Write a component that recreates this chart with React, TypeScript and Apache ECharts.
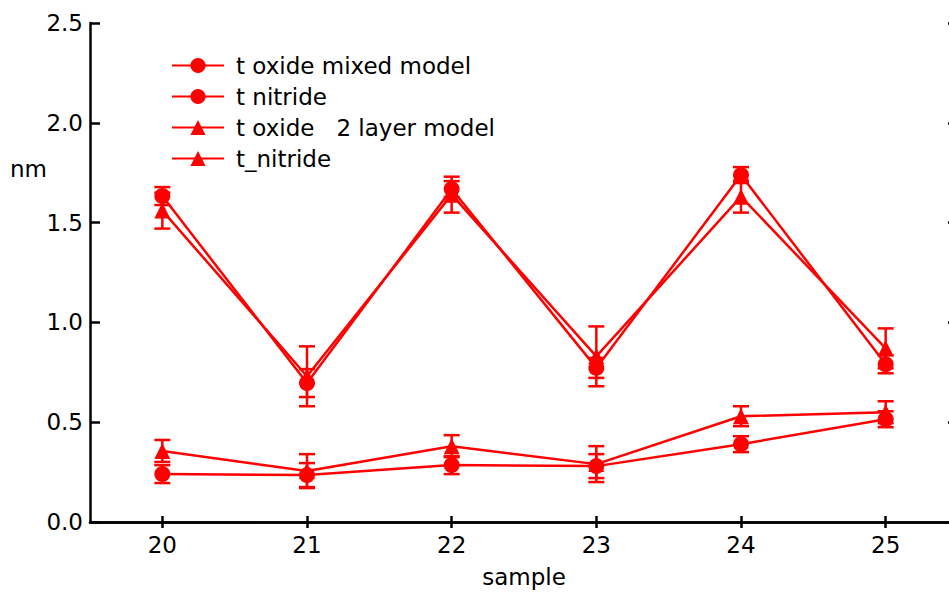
import React, { useEffect, useRef } from "react";
import * as echarts from "echarts";

const samples = ["20", "21", "22", "23", "24", "25"];
const oxideMixed = [1.633, 0.696, 1.668, 0.772, 1.738, 0.79];
const oxideMixedErr = [0.045, 0.07, 0.04, 0.05, 0.04, 0.045];
const nitrideMixed = [0.24, 0.235, 0.285, 0.28, 0.39, 0.515];
const nitrideMixedErr = [0.045, 0.06, 0.045, 0.06, 0.04, 0.04];
const oxide2 = [1.56, 0.73, 1.64, 0.83, 1.63, 0.87];
const oxide2Err = [0.09, 0.15, 0.09, 0.15, 0.08, 0.1];
const nitride2 = [0.356, 0.255, 0.38, 0.29, 0.53, 0.55];
const nitride2Err = [0.055, 0.085, 0.055, 0.09, 0.05, 0.055];
const yTicks = [0, 0.5, 1.0, 1.5, 2.0, 2.5];

const RED = "#ff0000";
const FONT = "'DejaVu Sans', sans-serif";
const FS = 23;
const LW = 2.5;

function errData(vals: number[], errs: number[]) {
  return vals.map((v, i) => [i, v - errs[i], v + errs[i]]);
}

function errSeries(vals: number[], errs: number[]) {
  return {
    type: "custom",
    z: 3,
    data: errData(vals, errs),
    renderItem: (params: any, api: any) => {
      const x = api.value(0);
      const lo = api.coord([x, api.value(1)]);
      const hi = api.coord([x, api.value(2)]);
      const w = 8;
      const style = { stroke: RED, lineWidth: LW };
      return {
        type: "group",
        children: [
          { type: "line", shape: { x1: lo[0], y1: lo[1], x2: hi[0], y2: hi[1] }, style },
          { type: "line", shape: { x1: lo[0] - w, y1: lo[1], x2: lo[0] + w, y2: lo[1] }, style },
          { type: "line", shape: { x1: hi[0] - w, y1: hi[1], x2: hi[0] + w, y2: hi[1] }, style },
        ],
      };
    },
  };
}

function lineSeries(name: string, vals: number[], symbol: string, size: number) {
  return {
    name,
    type: "line",
    data: vals,
    symbol,
    symbolSize: size,
    showAllSymbol: true,
    z: 4,
    lineStyle: { color: RED, width: LW },
    itemStyle: { color: RED },
  };
}

export default function App() {
  const ref = useRef<HTMLDivElement>(null);
  useEffect(() => {
    if (!ref.current) return;
    const chart = echarts.init(ref.current, null, { renderer: "svg" });
    const axisLine = { show: true, lineStyle: { color: "#000", width: 2.5 } };
    const tickStyle = { color: "#000", width: 2.5 };
    chart.setOption({
      animation: false,
      backgroundColor: "#fff",
      textStyle: { fontFamily: FONT },
      grid: { left: 90, top: 23, right: 2, bottom: 71, containLabel: false, outerBoundsMode: "none" },
      legend: {
        data: ["t oxide mixed model", "t nitride", "t oxide   2 layer model", "t_nitride"],
        orient: "vertical",
        left: 171,
        top: 54,
        padding: 0,
        itemWidth: 52,
        itemHeight: 19,
        itemGap: 8,
        textStyle: { fontSize: FS, color: "#000", fontFamily: FONT, lineHeight: 20, padding: [0, 0, 0, 7] },
      },
      xAxis: [
        {
          type: "category",
          data: samples,
          boundaryGap: true,
          name: "sample",
          nameLocation: "middle",
          nameGap: 43,
          nameTextStyle: { fontSize: FS, color: "#000", fontFamily: FONT },
          axisLine,
          axisTick: { show: true, inside: true, alignWithLabel: true, length: 6, lineStyle: tickStyle },
          axisLabel: { fontSize: FS, color: "#000", margin: 11, fontFamily: FONT },
          splitLine: { show: false },
        },
        {
          type: "category",
          data: samples,
          position: "top",
          boundaryGap: true,
          axisLine,
          axisTick: { show: true, inside: true, alignWithLabel: true, length: 6, lineStyle: tickStyle },
          axisLabel: { show: false },
          splitLine: { show: false },
        },
      ],
      yAxis: [
        {
          type: "value",
          min: 0,
          max: 2.5,
          interval: 0.5,
          axisLine,
          axisTick: { show: true, inside: true, length: 10, lineStyle: tickStyle },
          axisLabel: {
            fontSize: FS,
            color: "#000",
            margin: 7,
            fontFamily: FONT,
            formatter: (v: number) => (yTicks.includes(v) ? v.toFixed(1) : ""),
          },
          splitLine: { show: false },
        },
        {
          type: "value",
          min: 0,
          max: 2.5,
          interval: 0.5,
          position: "right",
          axisLine,
          axisTick: { show: true, inside: true, length: 10, lineStyle: tickStyle },
          axisLabel: { show: false },
          splitLine: { show: false },
        },
      ],
      graphic: [
        {
          type: "text",
          left: 10,
          top: 157,
          style: { text: "nm", fontSize: FS, fill: "#000", fontFamily: FONT },
        },
      ],
      series: [
        errSeries(oxideMixed, oxideMixedErr),
        errSeries(nitrideMixed, nitrideMixedErr),
        errSeries(oxide2, oxide2Err),
        errSeries(nitride2, nitride2Err),
        lineSeries("t oxide mixed model", oxideMixed, "circle", 16),
        lineSeries("t nitride", nitrideMixed, "circle", 16),
        lineSeries("t oxide   2 layer model", oxide2, "triangle", 16),
        lineSeries("t_nitride", nitride2, "triangle", 16),
      ],
    });
    return () => chart.dispose();
  }, []);
  return (
    <div style={{ position: "absolute", left: 0, top: 0, width: 949, height: 593, overflow: "hidden", background: "#fff" }}>
      <div ref={ref} style={{ width: 960, height: 593 }} />
    </div>
  );
}
